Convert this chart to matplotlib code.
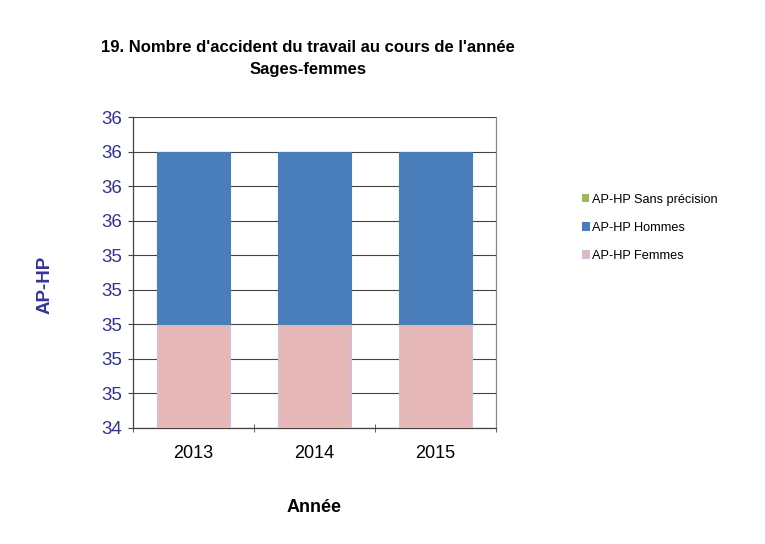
import numpy as np
import matplotlib
matplotlib.use("Agg")
import matplotlib.pyplot as plt
from matplotlib.ticker import MultipleLocator, FuncFormatter

plt.rcParams['font.family'] = ['Liberation Sans', 'DejaVu Sans']

annees = ['2013', '2014', '2015']
femmes = [35, 35, 35]
hommes = [1, 1, 1]
sans_precision = [0, 0, 0]

fig = plt.figure(figsize=(7.65, 5.44), dpi=100)
ax = fig.add_axes([133 / 765, 1 - 428 / 544, 363 / 765, 311 / 544])

x = np.arange(len(annees))
f = np.array(femmes)
h = np.array(hommes)
s = np.array(sans_precision)

ax.bar(x, f, 0.6, color='#e6b9b8', edgecolor='#ccc0e6', linewidth=0.8, label='AP-HP Femmes', zorder=3)
ax.bar(x, h, 0.6, bottom=f, color='#4a7ebb', edgecolor='#4a7ebb', linewidth=0.8, label='AP-HP Hommes', zorder=3)
ax.bar(x, s, 0.6, bottom=f + h, color='#9bbb59', label='AP-HP Sans précision', zorder=3)

ax.set_xlim(-0.5, 2.5)
ax.set_ylim(34.4, 36.2)
ax.yaxis.set_major_locator(MultipleLocator(0.2))
ax.yaxis.set_major_formatter(FuncFormatter(lambda v, p: '%.0f' % v))
ax.grid(axis='y', color='#444444', linewidth=0.8, zorder=0)

ax.set_xticks(x)
ax.set_xticklabels(annees)
ax.set_xticks([-0.5, 0.5, 1.5, 2.5], minor=True)
ax.tick_params(axis='x', which='major', length=0, labelsize=13, pad=12)
ax.tick_params(axis='x', which='minor', length=6, direction='inout', color='#444444')
ax.tick_params(axis='y', length=3.6, direction='out', color='#444444', labelsize=13.5,
               labelcolor='#33338f', pad=4.3)

for side in ['top', 'right', 'left', 'bottom']:
    ax.spines[side].set_color('#444444')
    ax.spines[side].set_linewidth(0.9)
ax.spines['top'].set_visible(False)
ax.spines['right'].set_color('#888888')

ax.set_xlabel('Année', fontsize=13, fontweight='bold')
ax.xaxis.set_label_coords(0.5, -0.228)
ax.set_ylabel('AP-HP', fontsize=13.5, fontweight='bold', color='#33339a')
ax.yaxis.set_label_coords(-0.22, 0.46)

fig.text(0.403, 0.893, "19. Nombre d'accident du travail au cours de l'année\nSages-femmes",
         ha='center', va='center', fontsize=12, fontweight='bold', linespacing=1.55)

handles, labels = ax.get_legend_handles_labels()
leg = fig.legend(handles[::-1], labels[::-1], loc='upper left', bbox_to_anchor=(0.746, 0.665),
                 frameon=False, fontsize=9.2, handlelength=0.55, handleheight=0.55,
                 handletextpad=0.25, labelspacing=1.25)

fig.savefig('out.png', dpi=100)
